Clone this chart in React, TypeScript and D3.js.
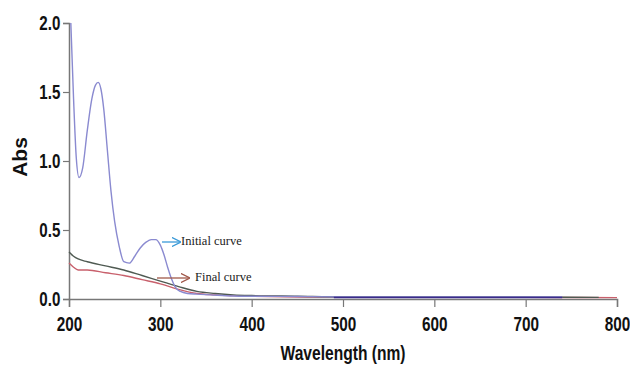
import * as d3 from 'd3';
import React, { useRef, useEffect } from 'react';

// wavelength (nm) / absorbance readings
const initialWl = [202, 205, 208, 211, 215, 220, 225, 229, 232, 235, 238, 242, 246, 250, 255, 260, 266, 272, 278, 284, 290, 295, 300, 304, 308, 312, 316, 322, 330, 340, 355, 380, 400, 450, 500, 600, 700, 740];
const initialAbs = [2.0, 1.45, 1.02, 0.88, 0.95, 1.22, 1.45, 1.55, 1.57, 1.52, 1.38, 1.08, 0.78, 0.56, 0.38, 0.27, 0.26, 0.31, 0.37, 0.41, 0.43, 0.43, 0.39, 0.32, 0.23, 0.15, 0.09, 0.055, 0.04, 0.035, 0.03, 0.022, 0.02, 0.018, 0.015, 0.015, 0.015, 0.015];

const darkWl = [200, 205, 210, 220, 240, 260, 280, 300, 320, 340, 360, 380, 400, 450, 500, 600, 700, 780];
const darkAbs = [0.34, 0.31, 0.29, 0.27, 0.24, 0.21, 0.17, 0.13, 0.09, 0.055, 0.04, 0.03, 0.025, 0.02, 0.015, 0.015, 0.014, 0.012];

const finalWl = [200, 205, 210, 220, 240, 260, 280, 300, 320, 340, 360, 400, 500, 600, 700, 800];
const finalAbs = [0.26, 0.23, 0.21, 0.21, 0.19, 0.17, 0.14, 0.11, 0.07, 0.04, 0.03, 0.02, 0.012, 0.012, 0.012, 0.01];

const tailWl = [490, 600, 740];
const tailAbs = [0.011, 0.011, 0.011];

const xTicks = [200, 300, 400, 500, 600, 700, 800];
const yTicks = [0, 0.5, 1.0, 1.5, 2.0];

function App() {
    const ref = useRef(null);
    const width = 630, height = 365;
    const margin = { top: 23, right: 13, bottom: 66, left: 69 };

    useEffect(() => {
        const svg = d3.select(ref.current);
        svg.selectAll('*').remove();

        const x = d3.scaleLinear().domain([200, 800]).range([margin.left, width - margin.right]);
        const y = d3.scaleLinear().domain([0, 2]).range([height - margin.bottom, margin.top]);
        const sans = '"Liberation Sans", Arial, sans-serif';

        // x axis
        const xAxis = svg.append('g')
            .attr('transform', `translate(0,${y(0)})`)
            .call(d3.axisBottom(x).tickValues(xTicks).tickSizeOuter(0).tickSize(8).tickPadding(9));
        xAxis.select('.domain').attr('stroke', '#777').attr('stroke-width', 1.5);
        xAxis.selectAll('.tick line').attr('stroke', '#777').attr('stroke-width', 1.2);
        xAxis.selectAll('text')
            .attr('transform', 'scale(0.73,1)')
            .style('font-family', sans).style('font-weight', 'bold').style('font-size', '21px').attr('fill', '#111');

        // y axis
        const yAxis = svg.append('g')
            .attr('transform', `translate(${x(200)},0)`)
            .call(d3.axisLeft(y).tickValues(yTicks).tickFormat(d3.format('.1f')).tickSizeOuter(0).tickSize(6).tickPadding(4));
        yAxis.select('.domain').attr('stroke', '#777').attr('stroke-width', 1.5);
        yAxis.selectAll('.tick line').attr('stroke', '#777').attr('stroke-width', 1.2);
        yAxis.selectAll('text')
            .attr('x', -12)
            .attr('transform', 'scale(0.72,1)')
            .style('font-family', sans).style('font-weight', 'bold').style('font-size', '21px').attr('fill', '#111');

        const line = d3.line().x(d => x(d[0])).y(d => y(d[1])).curve(d3.curveMonotoneX);

        /* final curve (red) */
        svg.append('path')
            .datum(d3.zip(finalWl, finalAbs))
            .attr('fill', 'none').attr('stroke', '#c8606c').attr('stroke-width', 1.4)
            .attr('d', line);

        /* dark curve */
        svg.append('path')
            .datum(d3.zip(darkWl, darkAbs))
            .attr('fill', 'none').attr('stroke', '#4f5a52').attr('stroke-width', 1.4)
            .attr('d', line);

        /* initial curve */
        svg.append('path')
            .datum(d3.zip(initialWl, initialAbs))
            .attr('fill', 'none').attr('stroke', '#8a8ad0').attr('stroke-width', 1.4)
            .attr('d', line);

        // dark blue tail near baseline
        svg.append('path')
            .datum(d3.zip(tailWl, tailAbs))
            .attr('fill', 'none').attr('stroke', '#3a2a8a').attr('stroke-width', 1.6)
            .attr('d', line);

        // annotation arrows
        const defs = svg.append('defs');
        const marker = (id, color) => defs.append('marker')
            .attr('id', id).attr('viewBox', '0 0 10 10').attr('refX', 9).attr('refY', 5)
            .attr('markerWidth', 7).attr('markerHeight', 7).attr('orient', 'auto')
            .append('path').attr('d', 'M0,0 L10,5 L0,10').attr('fill', 'none').attr('stroke', color).attr('stroke-width', 1.5);
        marker('arrBlue', '#3a9ad8');
        marker('arrBrown', '#a0584a');

        svg.append('line').attr('x1', 162).attr('x2', 180).attr('y1', 242).attr('y2', 242)
            .attr('stroke', '#3a9ad8').attr('stroke-width', 1.3).attr('marker-end', 'url(#arrBlue)');
        svg.append('text').attr('x', 181).attr('y', 242).attr('dominant-baseline', 'middle')
            .style('font-family', '"Liberation Serif", serif').style('font-size', '12.5px').attr('fill', '#222')
            .text('Initial curve');

        svg.append('line').attr('x1', 157).attr('x2', 189).attr('y1', 278).attr('y2', 278)
            .attr('stroke', '#a0584a').attr('stroke-width', 1.3).attr('marker-end', 'url(#arrBrown)');
        svg.append('text').attr('x', 195).attr('y', 278).attr('dominant-baseline', 'middle')
            .style('font-family', '"Liberation Serif", serif').style('font-size', '12.5px').attr('fill', '#222')
            .text('Final curve');

        // axis titles
        svg.append('text')
            .attr('transform', 'translate(343,360) scale(0.8,1)').attr('text-anchor', 'middle')
            .style('font-family', sans).style('font-weight', 'bold').style('font-size', '19.5px').attr('fill', '#111')
            .text('Wavelength (nm)');

        svg.append('text')
            .attr('transform', `translate(27,157) rotate(-90)`).attr('text-anchor', 'middle')
            .style('font-family', sans).style('font-weight', 'bold').style('font-size', '21px').attr('fill', '#111')
            .text('Abs');
    }, []);

    return (
        <svg ref={ref} width={width} height={height}
            style={{ position: 'absolute', left: 0, top: 0, background: '#fff' }} />
    );
}

export default App;
